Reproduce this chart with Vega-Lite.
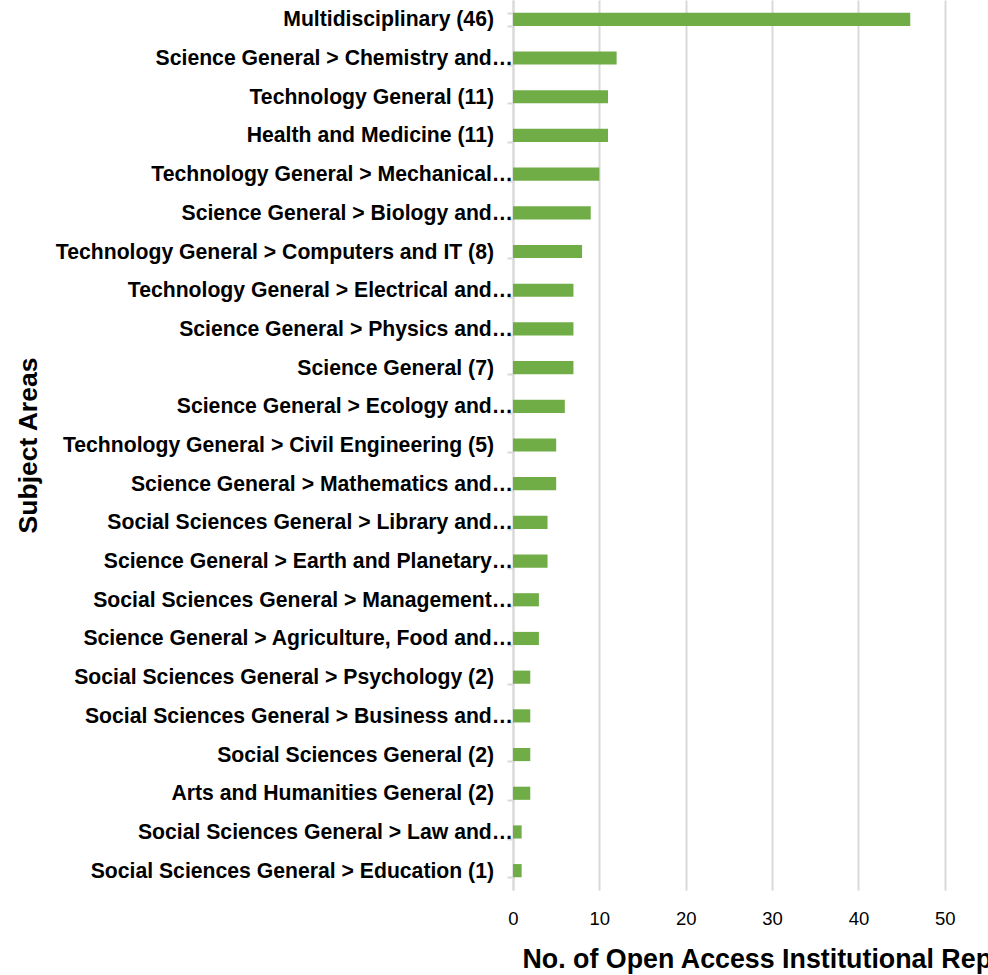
{
  "$schema": "https://vega.github.io/schema/vega-lite/v6.json",
  "autosize": "none",
  "padding": {"left": 513, "top": 0, "right": 0, "bottom": 85},
  "width": 475,
  "height": 890,
  "background": "white",
  "data": {
    "values": [
      {"subject": "Multidisciplinary (46)", "count": 46, "cut": false},
      {"subject": "Science General > Chemistry and…", "count": 12, "cut": true},
      {"subject": "Technology General (11)", "count": 11, "cut": false},
      {"subject": "Health and Medicine (11)", "count": 11, "cut": false},
      {"subject": "Technology General > Mechanical…", "count": 10, "cut": true},
      {"subject": "Science General > Biology and…", "count": 9, "cut": true},
      {"subject": "Technology General > Computers and IT (8)", "count": 8, "cut": false},
      {"subject": "Technology General > Electrical and…", "count": 7, "cut": true},
      {"subject": "Science General > Physics and…", "count": 7, "cut": true},
      {"subject": "Science General (7)", "count": 7, "cut": false},
      {"subject": "Science General > Ecology and…", "count": 6, "cut": true},
      {"subject": "Technology General > Civil Engineering (5)", "count": 5, "cut": false},
      {"subject": "Science General > Mathematics and…", "count": 5, "cut": true},
      {"subject": "Social Sciences General > Library and…", "count": 4, "cut": true},
      {"subject": "Science General > Earth and Planetary…", "count": 4, "cut": true},
      {"subject": "Social Sciences General > Management…", "count": 3, "cut": true},
      {"subject": "Science General > Agriculture, Food and…", "count": 3, "cut": true},
      {"subject": "Social Sciences General > Psychology (2)", "count": 2, "cut": false},
      {"subject": "Social Sciences General > Business and…", "count": 2, "cut": true},
      {"subject": "Social Sciences General (2)", "count": 2, "cut": false},
      {"subject": "Arts and Humanities General (2)", "count": 2, "cut": false},
      {"subject": "Social Sciences General > Law and…", "count": 1, "cut": true},
      {"subject": "Social Sciences General > Education (1)", "count": 1, "cut": false}
    ]
  },
  "encoding": {
    "y": {
      "field": "subject",
      "type": "nominal",
      "sort": null,
      "scale": {"paddingInner": 0.66, "paddingOuter": 0.33},
      "axis": {
        "title": "Subject Areas",
        "titleFont": "Liberation Sans",
        "titleFontSize": 26.5,
        "titleFontWeight": "bold",
        "titleColor": "black",
        "titleAngle": -90,
        "titleX": -485,
        "titleY": 445,
        "titleAlign": "center",
        "titleBaseline": "middle",
        "labels": false,
        "tickBand": "extent",
        "tickSize": 6,
        "tickColor": "#d9d9d9",
        "tickWidth": 2,
        "domainColor": "#d9d9d9",
        "domainWidth": 2,
        "grid": false
      }
    }
  },
  "layer": [
    {
      "mark": {"type": "bar", "color": "#70AD47"},
      "encoding": {
        "x": {
          "field": "count",
          "type": "quantitative",
          "scale": {"domain": [0, 55], "nice": false},
          "axis": {
            "values": [0, 10, 20, 30, 40, 50],
            "title": "No. of Open Access Institutional Repositories",
            "titleFont": "Liberation Sans",
            "titleFontSize": 26.8,
            "titleFontWeight": "bold",
            "titleColor": "black",
            "titleAnchor": "start",
            "titleAlign": "left",
            "titleX": 9,
            "titleY": 77,
            "titleBaseline": "alphabetic",
            "labelFont": "Liberation Sans",
            "labelFontSize": 18.5,
            "labelColor": "black",
            "labelPadding": 19,
            "labelFlush": false,
            "ticks": false,
            "domain": false,
            "grid": true,
            "gridColor": "#d9d9d9",
            "gridWidth": 2
          }
        }
      }
    },
    {
      "transform": [{"filter": "!datum.cut"}],
      "mark": {"type": "text", "align": "right", "baseline": "middle", "dx": -19, "dy": 1, "font": "Liberation Sans", "fontSize": 21.2, "fontWeight": "bold", "color": "black"},
      "encoding": {"x": {"datum": 0, "type": "quantitative"}, "text": {"field": "subject"}}
    },
    {
      "transform": [{"filter": "datum.cut"}],
      "mark": {"type": "text", "align": "right", "baseline": "middle", "dx": 0, "dy": 1, "font": "Liberation Sans", "fontSize": 21.2, "fontWeight": "bold", "color": "black"},
      "encoding": {"x": {"datum": 0, "type": "quantitative"}, "text": {"field": "subject"}}
    }
  ],
  "config": {"view": {"stroke": null}}
}
